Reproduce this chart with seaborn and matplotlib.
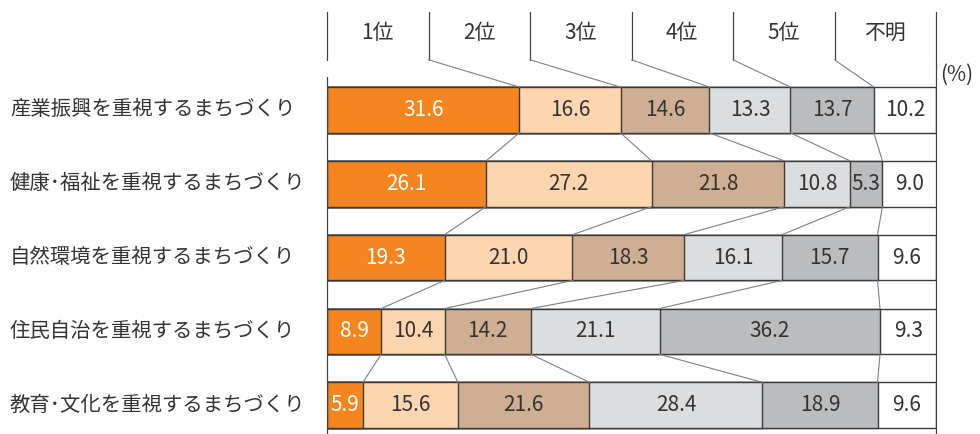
import pandas as pd
import matplotlib
matplotlib.use("Agg")
import matplotlib.pyplot as plt
import matplotlib.transforms as mtransforms
import seaborn as sns

sns.set_theme(style="white")
plt.rcParams['font.family'] = ['Noto Sans CJK JP', 'DejaVu Sans']

categories = ['産業振興を重視するまちづくり', '健康･福祉を重視するまちづくり',
              '自然環境を重視するまちづくり', '住民自治を重視するまちづくり',
              '教育･文化を重視するまちづくり']
ranks = ['1位', '2位', '3位', '4位', '5位', '不明']
rank1 = [31.6, 26.1, 19.3, 8.9, 5.9]
rank2 = [16.6, 27.2, 21.0, 10.4, 15.6]
rank3 = [14.6, 21.8, 18.3, 14.2, 21.6]
rank4 = [13.3, 10.8, 16.1, 21.1, 28.4]
rank5 = [13.7, 5.3, 15.7, 36.2, 18.9]
unknown = [10.2, 9.0, 9.6, 9.3, 9.6]
colors = ['#F5861F', '#FDD5AF', '#CFAF93', '#DCDDDF', '#BBBCBE', '#FFFFFF']

df = pd.DataFrame(dict(zip(ranks, [rank1, rank2, rank3, rank4, rank5, unknown])),
                  index=categories)
cum = df.cumsum(axis=1)

fig = plt.figure(figsize=(9.8, 4.34), dpi=100)
ax = fig.add_axes([327 / 980, 0, (936 - 327) / 980, 1])

edge = '#3a3a3a'
bar_h = 0.62
half = bar_h / 2

# stacked bars: draw cumulative totals from the last rank down
for i in range(len(ranks) - 1, -1, -1):
    sns.barplot(x=cum.iloc[:, i].values, y=categories, orient='h',
                color=colors[i], saturation=1, width=bar_h,
                edgecolor=edge, linewidth=1.0, ax=ax)

ax.set_xlim(0, 100)
ax.set_ylim(4.39, -1.49)
ax.set_axis_off()

# value labels
for r, cat in enumerate(categories):
    for i, rk in enumerate(ranks):
        v = df.loc[cat, rk]
        xc = cum.loc[cat, rk] - v / 2
        ax.text(xc, r, f'{v:.1f}', ha='center', va='center', fontsize=15,
                color='white' if i == 0 else '#333333')

# header
line_c = '#444444'
conn_c = '#808080'
y_top, y_hbot = -1.33, -0.68
for i, rk in enumerate(ranks):
    ax.text((i + 0.5) * 100 / 6, -1.04, rk, ha='center', va='center',
            fontsize=15, color='#333333')
for i in range(7):
    ax.plot([i * 100 / 6] * 2, [y_top, y_hbot], color=line_c, lw=0.9, clip_on=False)
# left axis line and right border
ax.plot([0, 0], [-0.45, 4.39], color=line_c, lw=0.9, clip_on=False)
ax.plot([100, 100], [y_hbot, 4.39], color=line_c, lw=0.9, clip_on=False)

# connectors header -> first bar
for i in range(1, 6):
    ax.plot([i * 100 / 6, cum.iloc[0, i - 1]], [y_hbot, -half],
            color=conn_c, lw=0.8, clip_on=False)
# connectors between bars
for r in range(len(categories) - 1):
    for j in range(5):
        ax.plot([cum.iloc[r, j], cum.iloc[r + 1, j]], [r + half, r + 1 - half],
                color=conn_c, lw=0.8, clip_on=False)

# category labels
trans = mtransforms.blended_transform_factory(fig.transFigure, ax.transData)
for r, cat in enumerate(categories):
    ax.text(10 / 980, r, cat, transform=trans, ha='left', va='center',
            fontsize=14.7, color='#333333')

ax.text(100.6, -0.48, '(%)', ha='left', va='center', fontsize=15,
        color='#333333', clip_on=False)

fig.savefig('out.png', dpi=100)
